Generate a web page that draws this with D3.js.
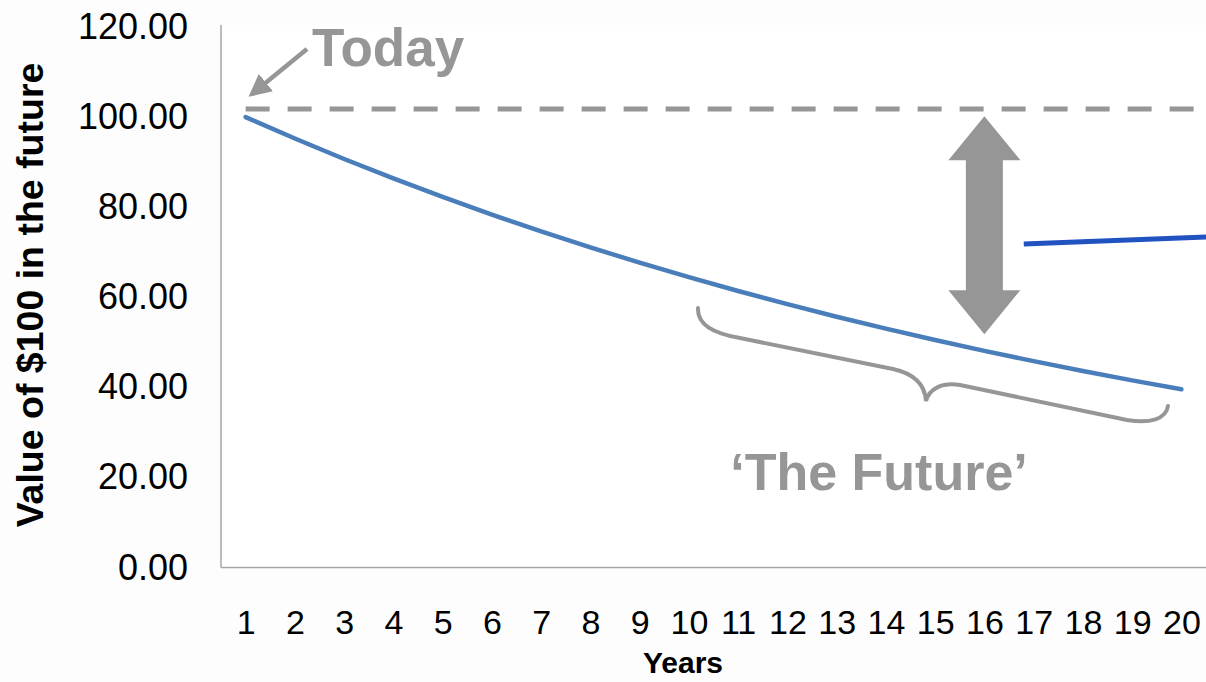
<!DOCTYPE html>
<html>
<head>
<meta charset="utf-8">
<script src="https://cdn.jsdelivr.net/npm/d3@7"></script>
<style>
  html, body { margin: 0; padding: 0; background: #fdfdfd; }
  svg { display: block; font-family: "Liberation Sans", Arial, sans-serif; }
</style>
</head>
<body>
<svg id="chart" width="1206" height="682"></svg>
<script>
// Present value of $100 received in each future year
const years = [1, 2, 3, 4, 5, 6, 7, 8, 9, 10, 11, 12, 13, 14, 15, 16, 17, 18, 19, 20];
const presentValue = [100.00, 95.24, 90.70, 86.38, 82.27, 78.35, 74.62, 71.07, 67.68, 64.46,
                      61.39, 58.47, 55.68, 53.03, 50.51, 48.10, 45.81, 43.63, 41.55, 39.57];
const yTicks = [0, 20, 40, 60, 80, 100, 120];

// Annotation anchors, in data units
const todayLevel = 101.8;                 // dashed "today" reference
const gapArrow = { year: 16, top: 100.2, bottom: 51.8 };
const leader = { from: [16.8, 71.8], to: [21, 73.6] };

const svg = d3.select("#chart");
const plot = { left: 221, right: 1206, top: 27, bottom: 567.5 };

const x = d3.scalePoint().domain(years).range([plot.left, plot.right]).padding(0.5);
const y = d3.scaleLinear().domain([0, 120]).range([plot.bottom, plot.top]);
const step = x.step();
const xc = v => plot.left + step * (v - 0.5);   // continuous year -> pixel

const grey = "#969696";

// Plot background
svg.append("rect").attr("x", plot.left).attr("y", 25).attr("width", plot.right - plot.left)
  .attr("height", plot.bottom - 25).attr("fill", "#ffffff");

// Y axis
const yAxis = svg.append("g").attr("transform", `translate(${plot.left},0)`)
  .call(d3.axisLeft(y).tickValues(yTicks).tickSize(0).tickPadding(33).tickFormat(d3.format(".2f")));
yAxis.select(".domain").attr("stroke", "#a6a6a6").attr("stroke-width", 1.5).attr("d", `M0,${plot.bottom}V25`);
yAxis.selectAll("text").attr("font-size", 36).attr("fill", "#000").attr("font-family", "Liberation Sans, Arial, sans-serif");

// X axis
const xAxis = svg.append("g").attr("transform", `translate(0,${plot.bottom})`)
  .call(d3.axisBottom(x).tickSize(0).tickPadding(42));
xAxis.select(".domain").attr("stroke", "#a6a6a6").attr("stroke-width", 1.5)
  .attr("d", `M${plot.left},0H${plot.right}`);
xAxis.selectAll("text").attr("font-size", 34).attr("fill", "#000").attr("font-family", "Liberation Sans, Arial, sans-serif");

// Axis titles
svg.append("text").attr("x", 683).attr("y", 673).attr("text-anchor", "middle")
  .attr("font-size", 30).attr("font-weight", "bold").attr("fill", "#000").text("Years");
svg.append("text").attr("transform", `translate(43,295) rotate(-90)`).attr("text-anchor", "middle")
  .attr("font-size", 37.5).attr("font-weight", "bold").attr("fill", "#000").text("Value of $100 in the future");

// Dashed "today" reference line
svg.append("line").attr("x1", x(1)).attr("x2", 1195).attr("y1", y(todayLevel)).attr("y2", y(todayLevel))
  .attr("stroke", grey).attr("stroke-width", 5).attr("stroke-dasharray", "24 18");

// Value series
svg.append("path").datum(years.map((d, i) => [d, presentValue[i]]))
  .attr("fill", "none").attr("stroke", "#4a7ebb").attr("stroke-width", 4.5)
  .attr("stroke-linecap", "round").attr("stroke-linejoin", "round")
  .attr("d", d3.line().x(d => x(d[0])).y(d => y(d[1])));

// Arrow markers
const defs = svg.append("defs");
defs.append("marker").attr("id", "head").attr("viewBox", "0 0 10 10").attr("refX", 8).attr("refY", 5)
  .attr("markerWidth", 5).attr("markerHeight", 5).attr("orient", "auto").attr("markerUnits", "strokeWidth")
  .append("path").attr("d", "M0,0L10,5L0,10Z").attr("fill", grey);

// "Today" label with pointer
svg.append("text").attr("x", 312).attr("y", 66).attr("font-size", 53).attr("font-weight", "bold")
  .attr("fill", grey).text("Today");
svg.append("line").attr("x1", 307).attr("y1", 49).attr("x2", 252).attr("y2", 94)
  .attr("stroke", grey).attr("stroke-width", 4.5).attr("marker-end", "url(#head)");

// Double-headed gap arrow
{
  const cx = xc(gapArrow.year), t = y(gapArrow.top), b = y(gapArrow.bottom);
  const hw = 36, sw = 18.5, hl = 44;
  const p = d3.path();
  p.moveTo(cx, t);
  p.lineTo(cx + hw, t + hl); p.lineTo(cx + sw, t + hl);
  p.lineTo(cx + sw, b - hl); p.lineTo(cx + hw, b - hl);
  p.lineTo(cx, b);
  p.lineTo(cx - hw, b - hl); p.lineTo(cx - sw, b - hl);
  p.lineTo(cx - sw, t + hl); p.lineTo(cx - hw, t + hl);
  p.closePath();
  svg.append("path").attr("d", p.toString()).attr("fill", grey);
}

// Leader line to an off-chart callout
svg.append("line").attr("x1", xc(leader.from[0])).attr("y1", y(leader.from[1]))
  .attr("x2", xc(leader.to[0])).attr("y2", y(leader.to[1]))
  .attr("stroke", "#2153c0").attr("stroke-width", 5);

// Curly brace under years 10-20
svg.append("path")
  .attr("d", "M698,308 C697,326 715,334 740,338 L893,369 C916,374 925,386 926,401 C929,389 942,382 960,385 L1127,420 C1150,424 1166,419 1168,406")
  .attr("fill", "none").attr("stroke", grey).attr("stroke-width", 4).attr("stroke-linecap", "round");

svg.append("text").attr("x", 879).attr("y", 490).attr("text-anchor", "middle")
  .attr("font-size", 52).attr("font-weight", "bold").attr("fill", grey).text("\u2018The Future\u2019");
</script>
</body>
</html>
